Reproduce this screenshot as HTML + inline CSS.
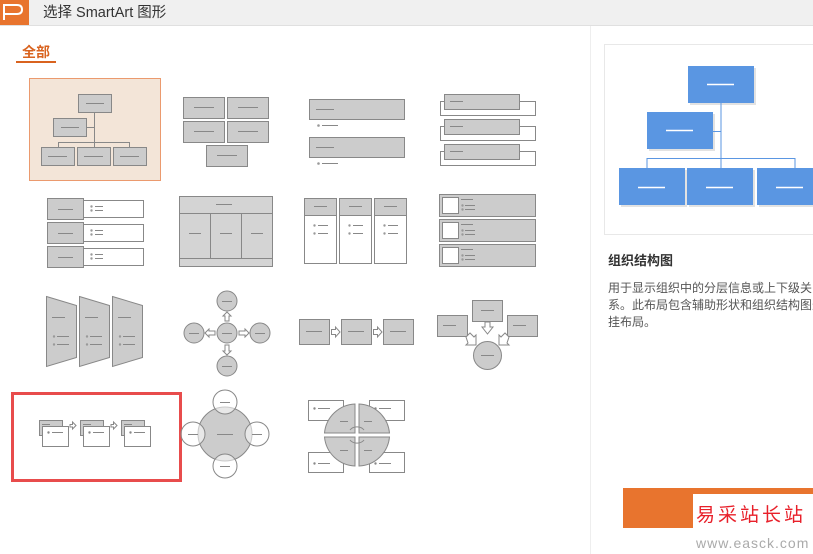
<!DOCTYPE html>
<html><head><meta charset="utf-8"><style>
html,body{margin:0;padding:0;background:#fff;width:813px;height:554px;overflow:hidden}
svg{display:block}
text{font-family:"Liberation Sans","Noto Sans CJK SC",sans-serif}
</style></head><body>
<svg width="813" height="554" viewBox="0 0 813 554" xmlns="http://www.w3.org/2000/svg">
<defs>
<g id="b"><rect x="0" y="0" width="1" height="1"/></g>
</defs>
<!-- header -->
<rect x="0" y="0" width="813" height="25" fill="#f0f0f0"/>
<line x1="0" y1="25.5" x2="813" y2="25.5" stroke="#e0e0e0"/>
<rect x="0" y="0" width="29" height="25" fill="#e8742e"/>
<path d="M4 20 V5 H17 Q22 5 22 9.5 Q22 14 17 14 H4" fill="none" stroke="#fff" stroke-width="2"/>
<text x="43" y="17" font-size="14.5" fill="#333">选择 SmartArt 图形</text>
<text x="22" y="57" font-size="14" font-weight="bold" fill="#d9631f">全部</text>
<rect x="16" y="61" width="40" height="2" fill="#d9631f"/>
<!-- right panel -->
<line x1="590.5" y1="26" x2="590.5" y2="554" stroke="#eeeeee"/>
<rect x="604.5" y="44.5" width="215" height="190" fill="#fff" stroke="#e8e8e8"/>
<g fill="#cfcfcf" opacity="0.6">
<rect x="690" y="68" width="66" height="37"/><rect x="649" y="114" width="66" height="37"/>
<rect x="621" y="170" width="66" height="37"/><rect x="689" y="170" width="66" height="37"/><rect x="759" y="170" width="66" height="37"/>
</g>
<g stroke="#5a96e2" stroke-width="1" fill="none">
<path d="M721 103 V168 M647 168 V158.5 H795 V168 M713 131.5 H721"/>
</g>
<g fill="#5a96e2">
<rect x="688" y="66" width="66" height="37"/><rect x="647" y="112" width="66" height="37"/>
<rect x="619" y="168" width="66" height="37"/><rect x="687" y="168" width="66" height="37"/><rect x="757" y="168" width="66" height="37"/>
</g>
<g stroke="#fff" stroke-width="1.5">
<path d="M707 84.5 H734 M666 130.5 H693 M638 187.5 H665 M706 187.5 H733 M776 187.5 H803"/>
</g>
<text x="608" y="265" font-size="13" font-weight="bold" fill="#333">组织结构图</text>
<text font-size="12" fill="#555"><tspan x="608" y="292">用于显示组织中的分层信息或上下级关</tspan><tspan x="608" y="309">系。此布局包含辅助形状和组织结构图悬</tspan><tspan x="608" y="326">挂布局。</tspan></text>
<!-- watermark -->
<rect x="623" y="488" width="190" height="40" fill="#e8742e"/>
<rect x="693" y="494" width="120" height="34" fill="#fff"/>
<text x="696" y="521" font-size="19" fill="#e8202a" font-family="Liberation Serif,'Noto Serif CJK SC',serif" letter-spacing="3">易采站长站</text>
<text x="696" y="548" font-size="14" fill="#aaa" font-family="Liberation Mono,monospace" letter-spacing="1">www.easck.com</text>

<g stroke="#888" stroke-width="1" fill="#cccccc">
<!-- item1 -->
<rect x="29.5" y="78.5" width="131" height="102" fill="#f3e5d8" stroke="#eb9a6e"/>
<path d="M94.5 112 V147 M58.5 147 V142.5 H129.5 V147 M86 127.5 H94.5" fill="none"/>
<rect x="78.5" y="94.5" width="33" height="18"/><rect x="53.5" y="118.5" width="33" height="18"/>
<rect x="41.5" y="147.5" width="33" height="18"/><rect x="77.5" y="147.5" width="33" height="18"/><rect x="113.5" y="147.5" width="33" height="18"/>
<path d="M86 103.5 H104 M61 127.5 H79 M48 156.5 H67 M84 156.5 H103 M120 156.5 H139" fill="none"/>
<!-- item2 -->
<rect x="183.5" y="97.5" width="41" height="21"/><rect x="227.5" y="97.5" width="41" height="21"/>
<rect x="183.5" y="121.5" width="41" height="21"/><rect x="227.5" y="121.5" width="41" height="21"/>
<rect x="206.5" y="145.5" width="41" height="21"/>
<path d="M194 107.5 H214 M238 107.5 H258 M194 131.5 H214 M238 131.5 H258 M217 155.5 H237" fill="none"/>
<!-- item3 -->
<rect x="309.5" y="99.5" width="95" height="20"/><rect x="309.5" y="137.5" width="95" height="20"/>
<path d="M316 109.5 H334 M316 147.5 H334 M322 125.5 H338 M322 163.5 H338" fill="none"/>
<circle cx="318.5" cy="125.5" r="1.3" stroke="none" fill="#999"/><circle cx="318.5" cy="163.5" r="1.3" stroke="none" fill="#999"/>
<!-- item4 -->
<g id="i4">
<rect x="440.5" y="101.5" width="95" height="14" fill="#fff"/>
<rect x="444.5" y="94.5" width="75" height="15"/>
<path d="M450 101.5 H463" fill="none"/>
</g>
<use href="#i4" y="25"/><use href="#i4" y="50"/>
<!-- item5 -->
<g id="i5">
<rect x="83.5" y="200.5" width="60" height="17" fill="#fff"/>
<rect x="47.5" y="198.5" width="36" height="21"/>
<path d="M58 209.5 H73 M95 206.5 H103 M95 210.5 H103" fill="none"/>
<circle cx="91.5" cy="206.5" r="1.2" stroke="none" fill="#999"/><circle cx="91.5" cy="210.5" r="1.2" stroke="none" fill="#999"/>
</g>
<use href="#i5" y="24"/><use href="#i5" y="48"/>
<!-- item6 -->
<rect x="179.5" y="196.5" width="93" height="70" fill="#d4d4d4"/>
<path d="M179.5 213.5 H272.5 M179.5 258.5 H272.5 M210.5 213.5 V258.5 M241.5 213.5 V258.5 M216 204.5 H232 M189 233.5 H201 M220 233.5 H232 M251 233.5 H263" fill="none"/>
<!-- item7 -->
<g id="i7">
<rect x="304.5" y="198.5" width="32" height="65" fill="#fff"/>
<rect x="304.5" y="198.5" width="32" height="17"/>
<path d="M314 206.5 H327 M318 225.5 H328 M318 233.5 H328" fill="none"/>
<circle cx="314.5" cy="225.5" r="1.2" stroke="none" fill="#999"/><circle cx="314.5" cy="233.5" r="1.2" stroke="none" fill="#999"/>
</g>
<use href="#i7" x="35"/><use href="#i7" x="70"/>
<!-- item8 -->
<g id="i8">
<rect x="439.5" y="194.5" width="96" height="22"/>
<rect x="442.5" y="197.5" width="16" height="16" fill="#fff"/>
<path d="M461 199.5 H473 M465 205.5 H475 M465 209.5 H475" fill="none"/>
<circle cx="462.5" cy="205.5" r="1.2" stroke="none" fill="#999"/><circle cx="462.5" cy="209.5" r="1.2" stroke="none" fill="#999"/>
</g>
<use href="#i8" y="25"/><use href="#i8" y="50"/>
<!-- item9 -->
<g id="i9">
<path d="M46.5 296.5 L76.5 305.5 V357.5 L46.5 366.5 Z"/>
<path d="M52 317.5 H65 M57 336.5 H69 M57 344.5 H69" fill="none"/>
<circle cx="54" cy="336.5" r="1.2" stroke="none" fill="#999"/><circle cx="54" cy="344.5" r="1.2" stroke="none" fill="#999"/>
</g>
<use href="#i9" x="33"/><use href="#i9" x="66"/>
<!-- item10 -->
<circle cx="227" cy="333" r="10"/><circle cx="227" cy="301" r="10"/><circle cx="227" cy="366" r="10"/>
<circle cx="194" cy="333" r="10"/><circle cx="260" cy="333" r="10"/>
<path d="M222 333.5 H232 M222 301.5 H232 M222 366.5 H232 M189 333.5 H199 M255 333.5 H265" fill="none"/>
<g fill="#fff">
<path d="M227 312 L231 316 H229 V321 H225 V316 H223 Z"/>
<path d="M227 355 L231 351 H229 V345 H225 V351 H223 Z"/>
<path d="M205 333 L209 329 V331 H215 V335 H209 V337 Z"/>
<path d="M249 333 L245 329 V331 H239 V335 H245 V337 Z"/>
</g>
<!-- item11 -->
<rect x="299.5" y="319.5" width="30" height="25"/><rect x="341.5" y="319.5" width="30" height="25"/><rect x="383.5" y="319.5" width="30" height="25"/>
<path d="M306 331.5 H322 M348 331.5 H364 M390 331.5 H406" fill="none"/>
<path d="M331.5 329.5 H335.5 V327 L340 332 L335.5 337 V334.5 H331.5 Z M373.5 329.5 H377.5 V327 L382 332 L377.5 337 V334.5 H373.5 Z" fill="#fff"/>
<!-- item12 -->
<rect x="472.5" y="300.5" width="30" height="21"/><rect x="437.5" y="315.5" width="30" height="21"/><rect x="507.5" y="315.5" width="30" height="21"/>
<circle cx="487.5" cy="355.5" r="14"/>
<path d="M481 310.5 H494 M443 325.5 H456 M513 325.5 H526 M481 355.5 H494" fill="none"/>
<path d="M485 322 H490 V327 H493 L487.5 334 L482 327 H485 Z" fill="#fff"/>
<path d="M466 337 L470 333 L474 337 L476 335 V345 H466 L468 343 Z" fill="#fff"/>
<path d="M509 337 L505 333 L501 337 L499 335 V345 H509 L507 343 Z" fill="#fff"/>
<!-- item13 -->
<rect x="12.5" y="393.5" width="168" height="87" fill="none" stroke="#e84c4c" stroke-width="3"/>
<g id="i13">
<rect x="39.5" y="420.5" width="23" height="15"/>
<rect x="42.5" y="426.5" width="26" height="20" fill="#fff"/>
<path d="M42 424.5 H50 M52 432.5 H63" fill="none"/>
<circle cx="48.5" cy="432.5" r="1.2" stroke="none" fill="#888"/>
<path d="M70 424.5 H72.5 V422 L76 425.5 L72.5 429 V427 H70 Z" fill="#fff"/>
</g>
<use href="#i13" x="41"/>
<g transform="translate(82 0)">
<rect x="39.5" y="420.5" width="23" height="15"/>
<rect x="42.5" y="426.5" width="26" height="20" fill="#fff"/>
<path d="M42 424.5 H50 M52 432.5 H63" fill="none"/>
<circle cx="48.5" cy="432.5" r="1.2" stroke="none" fill="#888"/>
</g>
<!-- item14 -->
<circle cx="225" cy="434" r="27"/>
<g fill="#fff" fill-opacity="0.55">
<circle cx="225" cy="402" r="12"/><circle cx="225" cy="466" r="12"/><circle cx="193" cy="434" r="12"/><circle cx="257" cy="434" r="12"/>
</g>
<path d="M217 434.5 H233 M220 402.5 H230 M220 466.5 H230 M188 434.5 H198 M252 434.5 H262" fill="none"/>
<!-- item15 -->
<rect x="308.5" y="400.5" width="35" height="20" fill="#fff"/><rect x="369.5" y="400.5" width="35" height="20" fill="#fff"/>
<rect x="308.5" y="452.5" width="35" height="20" fill="#fff"/><rect x="369.5" y="452.5" width="35" height="20" fill="#fff"/>
<path d="M318 408.5 H330 M379 408.5 H391 M318 463.5 H330 M379 463.5 H391" fill="none"/>
<g stroke="none" fill="#888"><circle cx="314.5" cy="408.5" r="1.2"/><circle cx="375.5" cy="408.5" r="1.2"/><circle cx="314.5" cy="463.5" r="1.2"/><circle cx="375.5" cy="463.5" r="1.2"/></g>
<path d="M355 433 H324.5 A32 32 0 0 1 355 404 Z"/>
<path d="M359 433 H389.5 A32 32 0 0 0 359 404 Z"/>
<path d="M355 437 H324.5 A32 32 0 0 0 355 466 Z"/>
<path d="M359 437 H389.5 A32 32 0 0 1 359 466 Z"/>
<path d="M340 421.5 H348 M364 421.5 H372 M340 450.5 H348 M364 450.5 H372" fill="none"/>
<path d="M350 430 A8 6 0 0 1 364 430 M364 440 A8 6 0 0 1 350 440" fill="none"/>
</g>
</svg>
</body></html>
